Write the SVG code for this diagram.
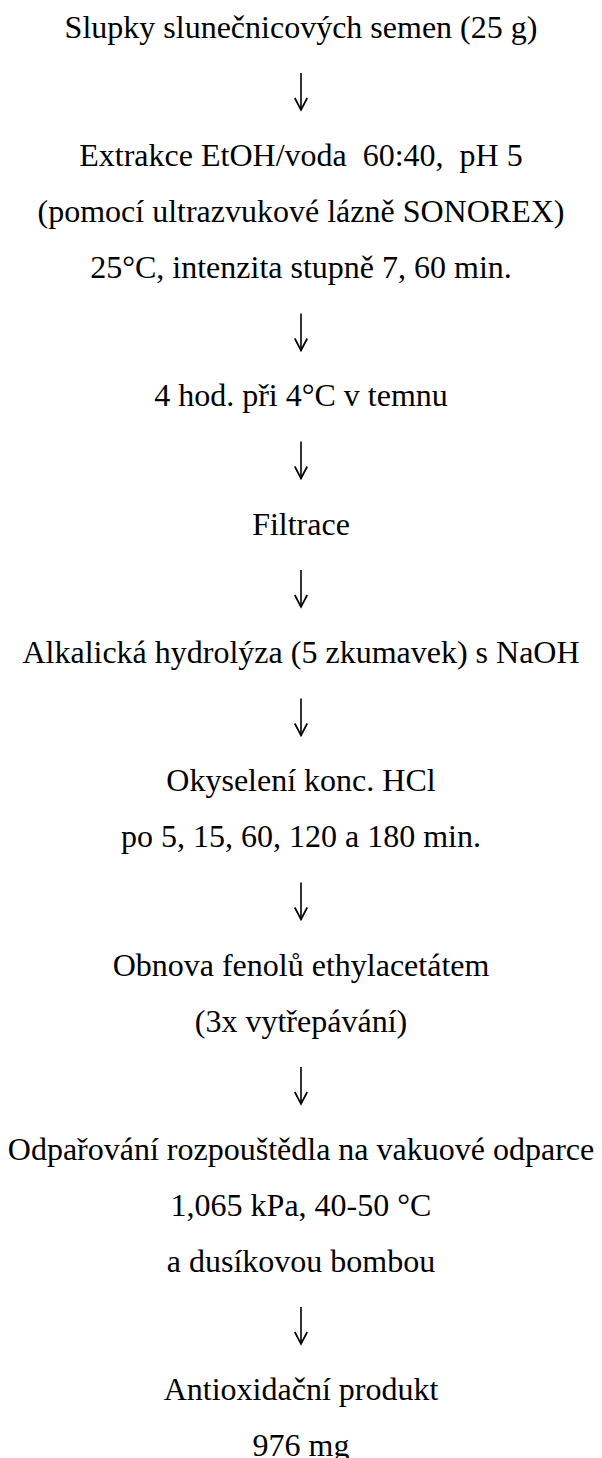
<svg xmlns="http://www.w3.org/2000/svg" width="602" height="1458" viewBox="0 0 602 1458">
<style>
text{font-family:"Liberation Serif","Times New Roman",serif;font-size:32px;fill:#000;text-anchor:middle;white-space:pre}
.c line{stroke:#000;stroke-width:1.6;marker-end:url(#ah)}
</style>
<defs>
<marker id="ah" markerUnits="userSpaceOnUse" markerWidth="18" markerHeight="18" refX="13" refY="7" orient="auto" overflow="visible">
<path d="M1,0.8 L13,7 L1,13.2" fill="none" stroke="#000" stroke-width="1.7" stroke-linejoin="miter"/>
</marker>
</defs>
<rect width="602" height="1458" fill="#fff"/>
<g id="n1"><text x="301" y="37.5">Slupky slunečnicových semen (25 g)</text></g>
<g id="n2"><text x="301" y="166" xml:space="preserve">Extrakce EtOH/voda  60:40,  pH 5</text><text x="301" y="222">(pomocí ultrazvukové lázně SONOREX)</text><text x="301" y="278">25°C, intenzita stupně 7, 60 min.</text></g>
<g id="n3"><text x="301" y="406">4 hod. při 4°C v temnu</text></g>
<g id="n4"><text x="301" y="534.5">Filtrace</text></g>
<g id="n5"><text x="301" y="663">Alkalická hydrolýza (5 zkumavek) s NaOH</text></g>
<g id="n6"><text x="301" y="791">Okyselení konc. HCl</text><text x="301" y="847">po 5, 15, 60, 120 a 180 min.</text></g>
<g id="n7"><text x="301" y="975.5">Obnova fenolů ethylacetátem</text><text x="301" y="1031.5">(3x vytřepávání)</text></g>
<g id="n8"><text x="301" y="1159.5">Odpařování rozpouštědla na vakuové odparce</text><text x="301" y="1215.5">1,065 kPa, 40-50 °C</text><text x="301" y="1271.5">a dusíkovou bombou</text></g>
<g id="n9"><text x="301" y="1400">Antioxidační produkt</text><text x="301" y="1456">976 mg</text></g>
<g id="connectors" class="c">
<line x1="301" y1="73" x2="301" y2="110"/>
<line x1="301" y1="313.5" x2="301" y2="350.5"/>
<line x1="301" y1="441.5" x2="301" y2="478.5"/>
<line x1="301" y1="570" x2="301" y2="607"/>
<line x1="301" y1="698.5" x2="301" y2="735.5"/>
<line x1="301" y1="882.5" x2="301" y2="919.5"/>
<line x1="301" y1="1067" x2="301" y2="1104"/>
<line x1="301" y1="1307" x2="301" y2="1344"/>
</g>
</svg>
